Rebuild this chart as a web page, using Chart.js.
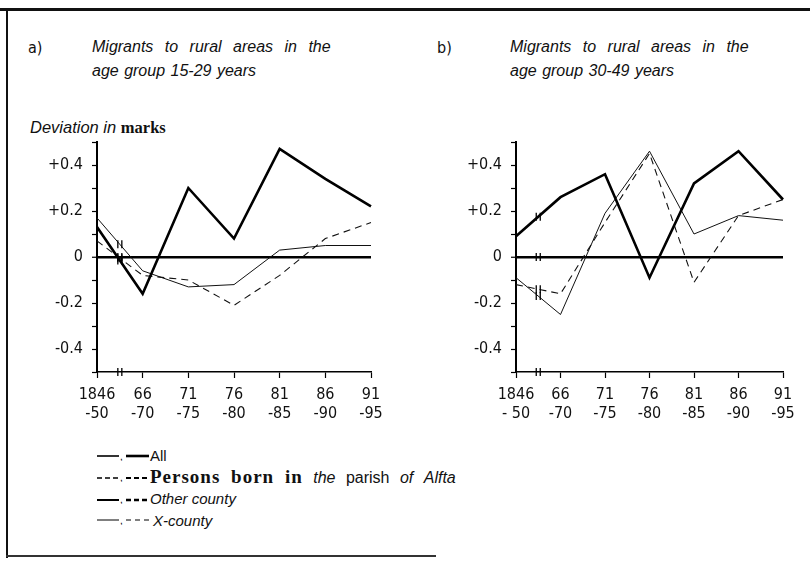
<!DOCTYPE html>
<html>
<head>
<meta charset="utf-8">
<script src="https://cdn.jsdelivr.net/npm/chart.js@4"></script>
<style>
  body { margin: 0; background: #fff; width: 810px; height: 562px; position: relative; overflow: hidden; font-family: "Liberation Sans", Arial, sans-serif; color: #111; }
  .frame-top { position: absolute; left: 0; top: 8px; width: 810px; height: 3px; background: #111; }
  .frame-left { position: absolute; left: 6px; top: 8px; width: 2px; height: 550px; background: #111; }
  .frame-bottom { position: absolute; left: 6px; top: 555px; width: 430px; height: 2px; background: #333; }
  .t { position: absolute; font-style: italic; font-size: 16px; white-space: nowrap; }
  .l1 { word-spacing: 7px; }
  .l2 { word-spacing: 1px; }
  .box { position: absolute; }
  .legend { position: absolute; left: 97px; top: 445px; font-size: 15px; }
  .row { height: 21.5px; display: flex; align-items: center; white-space: nowrap; }
  .row svg { display: block; }
  .serif { font-family: "Liberation Serif", serif; font-weight: bold; font-style: normal; }
  .big { font-size: 19px; letter-spacing: 1px; word-spacing: 5px; }
  .mixed { font-size: 16px; word-spacing: 6px; }
</style>
</head>
<body>
<div class="frame-top"></div>
<div class="frame-left"></div>
<div class="frame-bottom"></div>

<div class="t" style="left:28px; top:38px; font-style:normal; font-family:'DejaVu Sans Condensed';">a)</div>
<div class="t l1" style="left:92px; top:38px;">Migrants to rural areas in the</div>
<div class="t l2" style="left:92px; top:62px;">age group 15-29 years</div>
<div class="t" style="left:437px; top:38px; font-style:normal; font-family:'DejaVu Sans Condensed';">b)</div>
<div class="t l1" style="left:510px; top:38px;">Migrants to rural areas in the</div>
<div class="t l2" style="left:510px; top:62px;">age group 30-49 years</div>
<div class="t" style="left:30px; top:118px; font-size:16.5px;">Deviation in <span class="serif">marks</span></div>

<div class="box" style="left:0px; top:120px; width:400px; height:300px;"><canvas id="chartA"></canvas></div>
<div class="box" style="left:420px; top:120px; width:390px; height:300px;"><canvas id="chartB"></canvas></div>

<div class="legend">
  <div class="row">
    <svg width="53" height="10"><line x1="0" y1="5" x2="22" y2="5" stroke="#000" stroke-width="1.6"/><text x="23" y="9" font-size="10">,</text><line x1="29" y1="5" x2="52" y2="5" stroke="#000" stroke-width="2.6"/></svg>
    <span>All</span>
  </div>
  <div class="row">
    <svg width="53" height="10"><line x1="0" y1="6" x2="22" y2="6" stroke="#000" stroke-width="1.6" stroke-dasharray="5,3"/><text x="23" y="9" font-size="10">,</text><line x1="29" y1="6" x2="52" y2="6" stroke="#000" stroke-width="1.8" stroke-dasharray="5,3"/></svg>
    <span class="mixed"><span class="serif big">Persons born in</span> <i>the</i> parish <i>of</i> <i>Alfta</i></span>
  </div>
  <div class="row">
    <svg width="53" height="10"><line x1="0" y1="6" x2="22" y2="6" stroke="#000" stroke-width="2"/><text x="23" y="9" font-size="10">,</text><line x1="29" y1="6" x2="52" y2="6" stroke="#000" stroke-width="2.5" stroke-dasharray="5,3"/></svg>
    <i>Other county</i>
  </div>
  <div class="row">
    <svg width="56" height="10"><line x1="0" y1="5" x2="22" y2="5" stroke="#000" stroke-width="1"/><text x="23" y="9" font-size="10">,</text><line x1="29" y1="5" x2="52" y2="5" stroke="#000" stroke-width="1" stroke-dasharray="5,4"/></svg>
    <i>X-county</i>
  </div>
</div>

<script>
// periods on the x axis
const periodsA = [['1846', '-50'], ['66', '-70'], ['71', '-75'], ['76', '-80'], ['81', '-85'], ['86', '-90'], ['91', '-95']];
const periodsB = [['1846', '- 50'], ['66', '-70'], ['71', '-75'], ['76', '-80'], ['81', '-85'], ['86', '-90'], ['91', '-95']];

// a) age group 15-29
const allA = [0.13, -0.16, 0.30, 0.08, 0.47, 0.34, 0.22];
const parishA = [0.07, -0.08, -0.10, -0.21, -0.08, 0.08, 0.15];
const xcountyA = [0.17, -0.06, -0.13, -0.12, 0.03, 0.05, 0.05];

// b) age group 30-49
const allB = [0.09, 0.26, 0.36, -0.09, 0.32, 0.46, 0.25];
const parishB = [-0.12, -0.16, 0.15, 0.45, -0.11, 0.18, 0.25];
const xcountyB = [-0.09, -0.25, 0.19, 0.46, 0.10, 0.18, 0.16];

const yMin = -0.5, yMax = 0.5, yStep = 0.1;

function yLabel(value) {
    const v = Math.round(value * 10);
    if (v % 2 !== 0 || Math.abs(v) === 5) return '';
    if (v === 0) return '0';
    return (v > 0 ? '+' : '-') + (Math.abs(v) / 10).toFixed(1);
}

// little "||" marks where the time axis is broken (between the first two periods)
const breakMarks = {
    id: 'breakMarks',
    afterDatasetsDraw(chart) {
        const ctx = chart.ctx;
        const xs = chart.scales.x, ys = chart.scales.y;
        const xm = (xs.getPixelForValue(0) + xs.getPixelForValue(1)) / 2;
        const marks = [ys.getPixelForValue(0), ys.bottom];
        chart.data.datasets.forEach((ds, i) => {
            const pts = chart.getDatasetMeta(i).data;
            marks.push((pts[0].y + pts[1].y) / 2);
        });
        ctx.save();
        ctx.strokeStyle = '#000';
        ctx.lineWidth = 1.3;
        marks.forEach(y => {
            [-2, 2].forEach(dx => {
                ctx.beginPath();
                ctx.moveTo(xm + dx, y - 4);
                ctx.lineTo(xm + dx, y + 4);
                ctx.stroke();
            });
        });
        ctx.restore();
    }
};

const tickFont = { family: '"DejaVu Sans Condensed", sans-serif', size: 16 };

function makeChart(id, labels, all, parish, xcounty, yWidth, padRight) {
    new Chart(document.getElementById(id), {
        type: 'line',
        data: {
            labels: labels,
            datasets: [
                { label: 'All', data: all, borderColor: '#000', borderWidth: 2.6, pointRadius: 0, tension: 0 },
                { label: 'Persons born in the parish of Alfta', data: parish, borderColor: '#111', borderWidth: 1.1, borderDash: [7, 5], pointRadius: 0, tension: 0 },
                { label: 'X-county', data: xcounty, borderColor: '#111', borderWidth: 1, pointRadius: 0, tension: 0 }
            ]
        },
        options: {
            responsive: true,
            maintainAspectRatio: false,
            animation: false,
            layout: { padding: { left: 0, right: padRight, top: 22, bottom: 0 } },
            plugins: { legend: { display: false }, tooltip: { enabled: false } },
            scales: {
                x: {
                    type: 'category',
                    offset: false,
                    afterFit: s => { s.height = 48; },
                    border: { color: '#000', width: 1.5 },
                    grid: { drawOnChartArea: false, color: '#000', tickLength: 6, tickWidth: 1.2 },
                    ticks: { autoSkip: false, maxRotation: 0, padding: 7, color: '#111', font: tickFont }
                },
                y: {
                    min: yMin, max: yMax,
                    afterFit: s => { s.width = yWidth; },
                    border: { color: '#000', width: 2 },
                    grid: {
                        color: c => (c.tick && Math.round(c.tick.value * 10) === 0) ? '#000' : 'rgba(0,0,0,0)',
                        lineWidth: c => (c.tick && Math.round(c.tick.value * 10) === 0) ? 2.5 : 1,
                        tickColor: '#000', tickLength: 5, tickWidth: 1.2
                    },
                    ticks: { stepSize: yStep, padding: 9, color: '#111', font: tickFont, callback: yLabel }
                }
            }
        },
        plugins: [breakMarks]
    });
}

document.addEventListener('DOMContentLoaded', function () {
    makeChart('chartA', periodsA, allA, parishA, xcountyA, 97, 29);
    makeChart('chartB', periodsB, allB, parishB, xcountyB, 96, 27);
});
</script>
</body>
</html>
